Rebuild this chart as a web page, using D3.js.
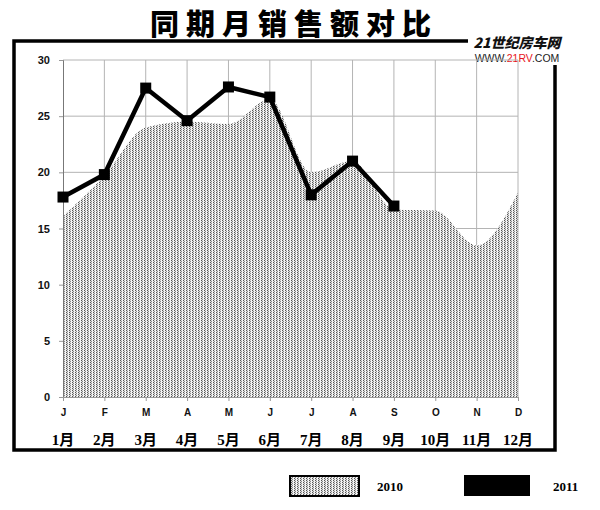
<!DOCTYPE html>
<html>
<head>
<meta charset="utf-8">
<script src="https://cdn.jsdelivr.net/npm/d3@7"></script>
<style>
  body { margin: 0; background: #fff; }
  svg { display: block; }
</style>
</head>
<body>
<svg id="chart" width="600" height="510"></svg>
<script>
// data
const monthLetters = ['J', 'F', 'M', 'A', 'M', 'J', 'J', 'A', 'S', 'O', 'N', 'D'];
const monthNames = ['1月', '2月', '3月', '4月', '5月', '6月', '7月', '8月', '9月', '10月', '11月', '12月'];
const sales2010 = [16.1, 19.7, 24.0, 24.5, 24.3, 26.5, 20.0, 21.0, 16.7, 16.6, 13.5, 18.2];
const sales2011 = [17.8, 19.8, 27.5, 24.6, 27.6, 26.7, 18.0, 21.0, 17.0];
const yTicks = [0, 5, 10, 15, 20, 25, 30];

const svg = d3.select('#chart');
const plot = { left: 63, right: 518, top: 60, bottom: 397 };

const idx = d3.range(monthLetters.length);
const x = d3.scalePoint().domain(idx).range([plot.left, plot.right]);
const y = d3.scaleLinear().domain([0, 30]).range([plot.bottom, plot.top]);

// dither pattern for the 2010 area
const defs = svg.append('defs');
const pat = defs.append('pattern')
  .attr('id', 'dots')
  .attr('patternUnits', 'userSpaceOnUse')
  .attr('width', 3).attr('height', 2);
pat.append('rect').attr('width', 3).attr('height', 2).attr('fill', '#dedede');
pat.append('rect').attr('x', 0).attr('y', 0).attr('width', 1).attr('height', 1).attr('fill', '#555');
pat.append('rect').attr('x', 1).attr('y', 1).attr('width', 1).attr('height', 1).attr('fill', '#8a8a8a');
pat.append('rect').attr('x', 2).attr('y', 0).attr('width', 1).attr('height', 2).attr('fill', '#f6f6f6');

// outer frame
svg.append('rect')
  .attr('x', 14).attr('y', 41)
  .attr('width', 541).attr('height', 409)
  .attr('fill', 'none')
  .attr('stroke', '#000')
  .attr('stroke-width', 3.5);

// title
svg.append('text')
  .attr('x', 294).attr('y', 35)
  .attr('text-anchor', 'middle')
  .attr('font-family', '"Noto Sans CJK SC", sans-serif')
  .attr('font-weight', 900)
  .attr('font-size', 29)
  .attr('letter-spacing', 7)
  .attr('fill', '#000')
  .text('同期月销售额对比');

// logo (covers the frame corner)
const logo = svg.append('g');
logo.append('rect')
  .attr('x', 468).attr('y', 32).attr('width', 100).attr('height', 33)
  .attr('fill', '#fff');
logo.append('text')
  .attr('x', 517).attr('y', 48)
  .attr('text-anchor', 'middle')
  .attr('font-family', '"Noto Sans CJK SC", sans-serif')
  .attr('font-weight', 900)
  .attr('font-style', 'italic')
  .attr('font-size', 14)
  .attr('fill', '#111')
  .text('21世纪房车网');
const url = logo.append('text')
  .attr('x', 517).attr('y', 62)
  .attr('text-anchor', 'middle')
  .attr('font-family', 'Arial, "Liberation Sans", sans-serif')
  .attr('font-size', 10.5)
  .attr('fill', '#222');
url.append('tspan').text('WWW.');
url.append('tspan').attr('fill', '#e8141b').text('21RV');
url.append('tspan').text('.COM');

// grid
const grid = svg.append('g').attr('stroke', '#b4b4b4').attr('stroke-width', 1);
grid.selectAll('.h').data(yTicks.filter(d => d > 0)).join('line')
  .attr('x1', plot.left).attr('x2', plot.right)
  .attr('y1', d => y(d)).attr('y2', d => y(d));
grid.selectAll('.v').data(idx.slice(1)).join('line')
  .attr('x1', d => x(d)).attr('x2', d => x(d))
  .attr('y1', plot.top).attr('y2', plot.bottom);

// 2010 area
const area = d3.area()
  .x((d, i) => x(i))
  .y0(y(0))
  .y1(d => y(d))
  .curve(d3.curveMonotoneX);
svg.append('path')
  .datum(sales2010)
  .attr('d', area)
  .attr('fill', 'url(#dots)');

// axes
const yAxis = svg.append('g')
  .attr('transform', `translate(${plot.left},0)`)
  .call(d3.axisLeft(y).tickValues(yTicks).tickSize(4).tickPadding(9));
yAxis.select('.domain').attr('stroke', '#777');
yAxis.selectAll('.tick line').attr('stroke', '#999');
yAxis.selectAll('text')
  .attr('font-family', 'Arial, "Liberation Sans", sans-serif')
  .attr('font-weight', 'bold')
  .attr('font-size', 11)
  .attr('fill', '#111');

const xAxis = svg.append('g')
  .attr('transform', `translate(0,${plot.bottom})`)
  .call(d3.axisBottom(x).tickSize(4).tickPadding(8).tickFormat(i => monthLetters[i]));
xAxis.select('.domain').attr('stroke', '#999');
xAxis.selectAll('.tick line').attr('stroke', '#999');
xAxis.selectAll('text')
  .attr('font-family', 'Arial, "Liberation Sans", sans-serif')
  .attr('font-weight', 'bold')
  .attr('font-size', 10)
  .attr('fill', '#111');

// chinese month labels
svg.append('g').selectAll('text').data(idx).join('text')
  .attr('x', d => x(d))
  .attr('y', 445)
  .attr('text-anchor', 'middle')
  .attr('font-family', '"Liberation Serif", "Noto Sans CJK SC", serif')
  .attr('font-weight', 'bold')
  .attr('font-size', 15)
  .attr('fill', '#000')
  .text(d => monthNames[d]);

// 2011 line
const line = d3.line().x((d, i) => x(i)).y(d => y(d));
svg.append('path')
  .datum(sales2011)
  .attr('d', line)
  .attr('fill', 'none')
  .attr('stroke', '#000')
  .attr('stroke-width', 4.5)
  .attr('stroke-linejoin', 'miter');
svg.append('g').selectAll('rect').data(sales2011).join('rect')
  .attr('x', (d, i) => x(i) - 5.5)
  .attr('y', d => y(d) - 5.5)
  .attr('width', 11).attr('height', 11)
  .attr('fill', '#000');

// legend
const legend = svg.append('g')
  .attr('font-family', '"Liberation Serif", serif')
  .attr('font-weight', 'bold')
  .attr('font-size', 13)
  .attr('fill', '#000');
legend.append('rect')
  .attr('x', 290).attr('y', 476).attr('width', 69).attr('height', 20)
  .attr('fill', 'url(#dots)')
  .attr('stroke', '#000').attr('stroke-width', 2);
legend.append('text').attr('x', 377).attr('y', 491).text('2010');
legend.append('rect')
  .attr('x', 464).attr('y', 475).attr('width', 66).attr('height', 21)
  .attr('fill', '#000');
legend.append('text').attr('x', 553).attr('y', 491).text('2011');
</script>
</body>
</html>
